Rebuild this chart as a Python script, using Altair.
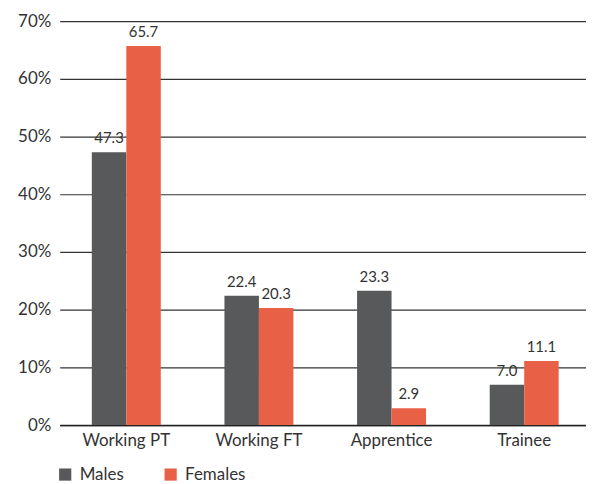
import altair as alt
import pandas as pd

categories = ["Working PT", "Working FT", "Apprentice", "Trainee"]
males = [47.3, 22.4, 23.3, 7.0]
females = [65.7, 20.3, 2.9, 11.1]

rows = []
for c, m, f in zip(categories, males, females):
    rows.append({"cat": c, "sex": "Males", "val": m})
    rows.append({"cat": c, "sex": "Females", "val": f})
df = pd.DataFrame(rows)
df["label"] = df["val"].map(lambda v: f"{v:.1f}")
df["frac"] = df["val"] / 100.0

FONT = "Lato"
TXT = "#333333"

x = alt.X("cat:N", sort=categories, title=None,
          scale=alt.Scale(paddingInner=0.48, paddingOuter=0.224, align=0.54),
          axis=alt.Axis(labelAngle=0, labelFontSize=17, labelColor=TXT, labelFont=FONT,
                        ticks=False, domain=True, domainColor="#222222", domainWidth=1.5,
                        labelPadding=8, grid=False))
xo = alt.XOffset("sex:N", sort=["Males", "Females"], scale=alt.Scale(paddingInner=0, paddingOuter=0))
y = alt.Y("frac:Q", title=None,
          scale=alt.Scale(domain=[0, 0.7], nice=False),
          axis=alt.Axis(format=".0%", values=[0, 0.1, 0.2, 0.3, 0.4, 0.5, 0.6, 0.7],
                        labelFontSize=17, labelColor=TXT, labelFont=FONT, ticks=False,
                        domain=False, labelPadding=9, gridColor="#333333", gridWidth=1.2))

color = alt.Color("sex:N", sort=["Males", "Females"],
                  scale=alt.Scale(domain=["Males", "Females"], range=["#58595b", "#e86146"]),
                  legend=alt.Legend(title=None, orient="none", legendX=-3, legendY=447,
                                    direction="horizontal", symbolType="square", symbolSize=150,
                                    symbolStrokeWidth=0, labelFontSize=17, labelFont=FONT,
                                    labelColor=TXT, columnPadding=38, labelOffset=6))

bars = alt.Chart(df).mark_bar().encode(x=x, xOffset=xo, y=y, color=color)
text = alt.Chart(df).mark_text(dy=-6, baseline="bottom", fontSize=15, font=FONT, color=TXT).encode(
    x=alt.X("cat:N", sort=categories), xOffset=xo, y="frac:Q", text="label:N")

chart = (bars + text).properties(width=529, height=406, padding={"left": 9, "top": 3, "right": 0, "bottom": 0}).configure_view(stroke=None)

chart.save("out.html", embed_options={"renderer": "svg", "actions": False})
